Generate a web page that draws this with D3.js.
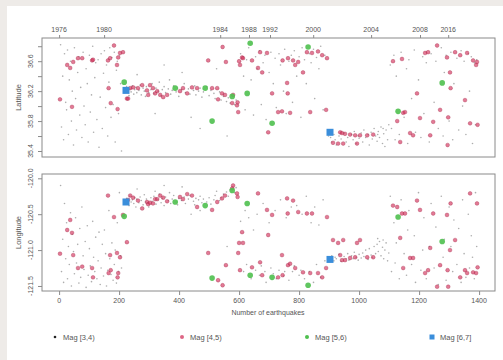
<!DOCTYPE html>
<html>
<head>
<meta charset="utf-8">
<script src="https://cdn.jsdelivr.net/npm/d3@7"></script>
<style>
  body { margin: 0; background: #eeebe8; }
  text { font-family: "Liberation Sans", Arial, sans-serif; fill: #555; }
</style>
</head>
<body>
<svg id="chart" width="503" height="360"></svg>
<script>
// [index, latitude, longitude] per magnitude class
var mag34 = [
  [5,36.82,-120.10],[8,35.72,-121.30],[12,36.40,-120.85],[15,35.55,-121.45],[18,36.70,-120.35],[22,36.05,-121.12],
  [25,35.95,-120.62],[28,36.75,-121.40],[31,35.62,-120.95],[34,36.35,-121.20],[38,36.60,-120.48],[41,35.80,-121.50],
  [44,36.20,-120.78],[48,35.48,-121.02],[51,36.78,-121.33],[55,36.10,-120.55],[58,35.68,-121.18],[62,36.45,-120.92],
  [66,36.66,-121.46],[69,35.88,-120.70],[72,36.25,-121.38],[76,35.58,-120.40],[80,36.72,-121.08],[83,36.00,-121.27],
  [87,35.75,-120.88],[90,36.50,-121.52],[94,36.30,-120.66],[97,35.52,-121.35],[101,36.68,-120.98],[104,35.92,-121.22],
  [108,36.15,-121.44],[112,36.80,-120.60],[115,35.65,-121.10],[119,36.38,-121.30],[122,36.58,-120.82],[126,35.82,-121.40],
  [130,36.62,-121.15],[133,35.45,-120.75],[137,36.12,-121.48],[140,36.70,-121.25],[144,35.70,-120.92],[148,36.44,-121.36],
  [151,36.74,-120.72],[155,35.98,-121.05],[158,36.55,-121.50],[162,35.60,-121.28],[166,36.32,-120.45],[169,36.78,-121.12],
  [173,35.85,-121.34],[176,36.65,-120.90],[180,36.02,-121.42],[184,36.72,-121.20],[187,35.52,-121.00],[191,36.48,-121.46],
  [194,36.60,-120.62],[198,35.90,-121.30],[201,36.68,-120.20],[205,36.30,-121.08],[208,35.40,-121.25],
  [216,36.22,-120.30],[219,36.18,-120.36],[225,36.26,-120.28],[228,36.20,-120.32],[233,36.14,-120.38],[236,36.23,-120.25],
  [240,36.19,-120.33],[244,36.27,-120.30],[249,36.16,-120.35],[252,36.22,-120.27],[256,36.25,-120.40],[259,36.18,-120.29],
  [266,36.21,-120.34],[270,36.28,-120.26],[274,36.15,-120.31],[280,36.24,-120.37],[284,36.20,-120.23],[288,36.13,-120.33],
  [291,36.26,-120.29],[299,36.18,-120.40],[306,36.22,-120.27],[310,36.30,-120.32],[316,36.17,-120.25],[323,36.24,-120.36],
  [330,36.20,-120.30],[334,36.32,-120.22],[340,36.14,-120.34],[344,36.22,-120.28],[350,36.26,-120.38],[355,36.18,-120.26],
  [364,36.23,-120.31],[368,36.35,-120.20],[372,36.16,-120.35],[377,36.21,-120.29],[382,36.27,-120.24],[390,36.19,-120.33],
  [395,36.24,-120.37],[399,36.13,-120.28],[408,36.22,-120.31],[417,36.30,-120.26],[421,36.18,-120.35],[431,36.23,-120.29],
  [436,36.16,-120.24],[448,36.21,-120.32],[452,36.27,-120.37],[456,36.15,-120.28],[465,36.20,-120.30],[470,36.24,-120.25],
  [476,36.12,-120.34],[481,36.19,-120.29],[492,36.26,-120.33],[500,36.14,-120.27],[506,36.21,-120.36],[516,36.17,-120.30],
  [520,36.10,-120.24],[535,36.19,-120.31],[540,36.08,-120.27],[548,36.13,-120.22],[558,36.06,-120.19],[564,36.11,-120.25],
  [570,36.04,-120.16],[585,36.02,-120.20],[590,36.08,-120.13],
  [260,36.42,-120.15],[320,35.90,-120.18],[410,36.45,-120.12],[470,35.70,-120.45],[525,36.50,-120.18],[560,35.60,-120.95],
  [350,36.55,-120.10],[440,35.85,-120.50],
  [605,36.70,-120.60],[615,36.40,-121.30],[620,35.95,-120.45],[625,36.62,-121.20],[632,36.78,-120.55],[640,36.35,-121.40],
  [648,35.88,-120.72],[655,36.66,-121.28],[660,36.50,-120.50],[668,36.74,-121.35],[674,36.02,-121.22],[680,36.58,-120.35],
  [686,36.68,-121.30],[690,35.82,-121.45],[700,36.45,-120.62],[706,36.72,-121.25],[714,36.30,-121.33],[720,36.64,-120.45],
  [724,35.98,-121.40],[733,36.70,-121.28],[738,36.55,-120.30],[748,36.20,-121.36],[752,36.76,-121.30],[757,35.90,-120.55],
  [766,36.60,-121.42],[774,36.68,-120.40],[778,36.05,-121.30],[784,36.74,-121.22],[792,36.40,-120.38],[800,36.66,-121.35],
  [806,35.85,-121.28],[810,36.78,-120.50],[818,36.62,-121.40],[824,36.30,-120.25],[834,36.70,-121.30],[840,36.58,-120.62],
  [848,36.76,-121.45],[852,36.10,-120.40],[858,36.65,-121.20],[866,36.50,-120.65],[872,36.80,-121.38],[880,35.95,-120.30],
  [886,36.68,-121.15],
  [898,35.60,-121.10],[905,35.58,-121.13],[909,35.52,-121.08],[916,35.62,-121.15],[920,35.55,-121.10],[924,35.48,-121.12],
  [933,35.60,-121.06],[940,35.56,-121.16],[950,35.64,-121.09],[957,35.52,-121.12],[962,35.58,-121.05],[966,35.46,-121.14],
  [975,35.62,-121.08],[980,35.55,-121.12],[984,35.66,-121.03],[990,35.50,-121.10],[997,35.60,-121.14],[1000,35.57,-121.06],
  [1007,35.64,-121.11],[1012,35.52,-121.04],[1016,35.68,-121.09],[1022,35.58,-121.00],[1030,35.62,-121.13],[1034,35.48,-120.98],
  [1040,35.65,-121.07],[1044,35.56,-121.10],[1050,35.70,-120.95],[1055,35.60,-121.05],[1060,35.53,-120.92],[1064,35.66,-121.02],
  [1068,35.58,-120.88],[1073,35.72,-121.08],[1078,35.50,-120.96],[1082,35.63,-121.12],[1086,35.46,-121.00],[1090,35.68,-120.90],
  [1095,35.55,-121.15],[1099,35.75,-121.04],[1062,35.62,-120.84],[1080,35.70,-120.86],
  [1104,36.55,-120.25],[1108,35.70,-121.30],[1116,36.68,-120.62],[1120,35.55,-121.18],[1124,36.40,-120.90],[1134,35.62,-121.40],
  [1140,36.72,-120.30],[1150,35.85,-121.05],[1158,36.50,-121.35],[1162,35.50,-120.72],[1166,36.62,-120.45],[1175,36.10,-121.20],
  [1184,36.75,-120.80],[1188,35.65,-121.45],[1198,36.35,-120.20],[1206,35.58,-121.28],[1212,36.66,-121.00],[1216,35.90,-120.55],
  [1224,36.58,-121.40],[1234,35.52,-120.95],[1240,36.70,-120.35],[1250,36.05,-121.25],[1256,36.60,-120.68],[1264,35.70,-121.48],
  [1274,36.78,-120.25],[1280,35.60,-121.10],[1284,36.45,-120.85],[1290,36.68,-121.42],[1300,35.80,-120.40],[1306,36.72,-120.95],
  [1312,35.55,-121.30],[1316,36.30,-120.58],[1326,36.64,-121.20],[1332,35.68,-120.70],[1340,36.74,-121.45],[1345,36.00,-120.30],
  [1350,36.60,-121.05],[1356,35.62,-121.38],[1364,36.70,-120.50],[1368,36.20,-121.25],[1374,36.66,-120.80],[1378,35.50,-121.10],
  [1384,36.58,-121.40],[1388,35.75,-120.20],[1392,36.62,-120.95]
];

var mag45 = [
  [3,36.09,-121.05],[27,36.55,-120.72],[37,36.51,-120.58],[43,35.99,-120.76],[47,36.59,-121.07],[63,36.64,-121.25],
  [77,36.64,-121.23],[110,36.61,-121.25],[113,36.62,-121.38],[163,36.61,-120.24],[170,36.64,-121.07],[165,36.24,-121.32],
  [172,36.04,-121.28],[183,36.81,-120.54],[193,36.55,-121.04],[195,35.96,-121.38],[197,36.65,-121.32],[203,36.71,-121.10],
  [213,36.72,-120.51],[226,36.10,-120.89],
  [237,36.24,-120.24],[230,36.10,-120.30],[247,36.25,-120.27],[263,36.24,-120.31],[277,36.28,-120.42],[293,36.21,-120.33],
  [297,36.15,-120.36],[303,36.28,-120.34],[313,36.24,-120.35],[320,36.17,-120.29],[327,36.20,-120.29],[337,36.15,-120.24],
  [347,36.12,-120.27],[360,36.15,-120.32],[403,36.20,-120.26],[413,36.24,-120.29],[427,36.17,-120.22],[443,36.25,-120.24],
  [460,36.24,-120.40],[497,36.61,-121.04],[510,36.24,-120.44],[527,36.24,-120.33],[530,36.09,-121.42],[543,36.17,-120.28],
  [545,36.79,-121.49],[553,36.15,-120.24],[556,36.59,-121.21],[577,36.04,-120.14],[580,36.15,-120.10],[593,36.01,-120.21],
  [595,36.05,-120.26],[600,36.60,-120.90],[597,35.92,-121.04],[603,36.55,-121.28],
  [610,36.65,-120.75],[613,36.64,-120.90],[643,36.61,-121.24],[663,36.51,-120.21],[670,36.72,-121.17],[677,36.45,-121.35],
  [693,36.71,-120.44],[697,35.65,-120.79],[710,36.17,-120.51],[730,35.92,-121.38],[743,35.93,-121.07],[745,36.61,-121.35],
  [760,36.31,-120.28],[762,36.17,-120.49],[763,36.64,-121.21],[770,35.91,-121.19],[780,36.61,-120.31],[797,36.59,-120.47],
  [837,35.92,-121.32],[843,36.71,-120.49],[863,36.73,-121.32],[877,36.68,-121.38],[893,36.64,-120.54],[890,35.95,-121.25],
  [787,36.55,-121.25],[813,36.45,-121.31],[826,36.72,-120.49],
  [913,35.51,-120.86],[930,35.50,-120.90],[937,35.65,-121.07],[943,35.64,-121.14],[947,35.50,-120.86],[953,35.63,-121.14],
  [970,35.62,-121.11],[987,35.61,-121.10],[993,35.50,-120.90],[1003,35.61,-120.86],[1027,35.61,-121.10],[1047,35.62,-121.10],
  [1113,36.60,-120.38],[1127,35.80,-120.40],[1137,35.52,-120.83],[1143,36.63,-120.49],[1147,35.91,-121.25],[1153,35.92,-120.49],
  [1170,35.64,-121.11],[1180,35.61,-121.11],[1193,36.17,-120.31],[1203,35.84,-120.44],[1220,36.71,-121.32],[1230,36.72,-121.28],
  [1237,35.61,-120.97],[1247,35.79,-120.49],[1260,36.81,-121.51],[1270,35.95,-121.21],[1293,36.65,-120.51],[1295,35.48,-121.28],
  [1297,35.85,-121.51],[1303,36.45,-121.00],[1305,36.24,-120.35],[1320,36.72,-120.86],[1337,36.68,-121.38],[1353,36.08,-121.28],
  [1360,36.71,-121.32],[1370,35.77,-120.21],[1380,36.61,-121.31],[1393,36.59,-120.35],[1395,35.75,-121.24],[1390,36.55,-121.32]
];

var mag56 = [
  [217,36.32,-120.53],[387,36.24,-120.33],[487,36.24,-120.38],[510,35.80,-121.39],[577,36.13,-120.17],[627,36.17,-120.35],
  [637,36.84,-121.35],[710,35.77,-121.38],[830,36.79,-121.49],[1130,35.93,-120.54],[1277,36.31,-120.88]
];

var mag67 = [[223,36.21,-120.33],[903,35.65,-121.13]];

var latTicks = [35.4, 35.6, 35.8, 36.0, 36.2, 36.4, 36.6, 36.8];
var latLabels = [35.4, 35.8, 36.2, 36.6];
var lonTicks = [-121.5, -121.0, -120.5, -120.0];
var countTicks = [0, 200, 400, 600, 800, 1000, 1200, 1400];
var yearLabels = ["1976", "1980", "1984", "1988", "1992", "2000", "2004", "2008", "2016"];
var yearIndex = [0, 150, 537, 633, 703, 847, 1040, 1203, 1297];
var legendLabels = ["Mag [3,4)", "Mag [4,5)", "Mag [5,6)", "Mag [6,7]"];

var svg = d3.select("#chart");
svg.append("rect").attr("x", 7).attr("y", 6).attr("width", 496).attr("height", 354).attr("fill", "#fff");

var x = d3.scaleLinear().domain([-57, 1453]).range([42, 495]);
var yLat = d3.scaleLinear().domain([35.32, 36.91]).range([157, 38]);
var yLon = d3.scaleLinear().domain([-121.57, -119.94]).range([291, 174]);

var axisCol = "#8a8a8a";
var redCol = "#d2335c", greenCol = "#4fc04f", blueCol = "#3a8edb";

function panel(y, col, ticks, labels, title) {
  var g = svg.append("g");
  var r = y.range();

  g.append("g").selectAll("circle").data(mag34).enter().append("circle")
    .attr("cx", function (d) { return x(d[0]); })
    .attr("cy", function (d) { return y(d[col]); })
    .attr("r", 0.8).attr("fill", "#333").attr("fill-opacity", 0.4);
  g.append("g").selectAll("circle").data(mag45).enter().append("circle")
    .attr("cx", function (d) { return x(d[0]); })
    .attr("cy", function (d) { return y(d[col]); })
    .attr("r", 1.9).attr("fill", redCol).attr("fill-opacity", 0.65)
    .attr("stroke", "#a01e40").attr("stroke-opacity", 0.55).attr("stroke-width", 0.6);
  g.append("g").selectAll("circle").data(mag56).enter().append("circle")
    .attr("cx", function (d) { return x(d[0]); })
    .attr("cy", function (d) { return y(d[col]); })
    .attr("r", 2.8).attr("fill", greenCol).attr("fill-opacity", 0.9);
  g.append("g").selectAll("rect").data(mag67).enter().append("rect")
    .attr("x", function (d) { return x(d[0]) - 3.5; })
    .attr("y", function (d) { return y(d[col]) - 3.5; })
    .attr("width", 7).attr("height", 7).attr("fill", blueCol);

  // box
  g.append("rect").attr("x", 42).attr("y", r[1]).attr("width", 453).attr("height", r[0] - r[1])
    .attr("fill", "none").attr("stroke", axisCol).attr("stroke-width", 1);

  // left axis, R style: ticks everywhere, only non-overlapping labels
  var ax = g.append("g").attr("transform", "translate(42,0)")
    .call(d3.axisLeft(y).tickValues(ticks).tickSize(4).tickFormat(""));
  ax.select(".domain").remove();
  ax.selectAll("line").attr("stroke", axisCol);
  g.selectAll(".ylab").data(labels).enter().append("text")
    .attr("transform", function (d) { return "translate(33," + y(d) + ") rotate(-90)"; })
    .attr("text-anchor", "middle").attr("font-size", 7).text(function (d) { return d.toFixed(1); });
  g.append("text")
    .attr("transform", "translate(21," + ((r[0] + r[1]) / 2) + ") rotate(-90)")
    .attr("text-anchor", "middle").attr("font-size", 7.5).text(title);
}

panel(yLat, 1, latTicks, latLabels, "Latitude");
panel(yLon, 2, lonTicks, lonTicks, "Longitude");

// top axis with years
var topAx = svg.append("g").attr("transform", "translate(0,38)")
  .call(d3.axisTop(x).tickValues(yearIndex).tickSize(3).tickFormat(""));
topAx.select(".domain").remove();
topAx.selectAll("line").attr("stroke", axisCol);
svg.selectAll(".year").data(yearLabels).enter().append("text")
  .attr("x", function (d, i) { return x(yearIndex[i]); })
  .attr("y", 32).attr("text-anchor", "middle").attr("font-size", 7).text(function (d) { return d; });

// bottom axis
var botAx = svg.append("g").attr("transform", "translate(0,291)")
  .call(d3.axisBottom(x).tickValues(countTicks).tickSize(4).tickFormat(""));
botAx.select(".domain").remove();
botAx.selectAll("line").attr("stroke", axisCol);
svg.selectAll(".cnt").data(countTicks).enter().append("text")
  .attr("x", function (d) { return x(d); })
  .attr("y", 303).attr("text-anchor", "middle").attr("font-size", 7).text(function (d) { return d; });
svg.append("text").attr("x", 268).attr("y", 315).attr("text-anchor", "middle")
  .attr("font-size", 7).text("Number of earthquakes");

// legend
var legX = [55, 182, 307, 432];
var leg = svg.selectAll(".leg").data(legendLabels).enter().append("g")
  .attr("transform", function (d, i) { return "translate(" + legX[i] + ",337)"; });
leg.each(function (d, i) {
  var s = d3.select(this);
  if (i == 0) s.append("circle").attr("r", 1.3).attr("fill", "#222");
  if (i == 1) s.append("circle").attr("r", 2).attr("fill", redCol).attr("fill-opacity", 0.75);
  if (i == 2) s.append("circle").attr("r", 2).attr("fill", greenCol);
  if (i == 3) s.append("rect").attr("x", -2.5).attr("y", -2.5).attr("width", 5).attr("height", 5).attr("fill", blueCol);
  s.append("text").attr("x", 8).attr("y", 2.5).attr("font-size", 7.5).text(d);
});
</script>
</body>
</html>
